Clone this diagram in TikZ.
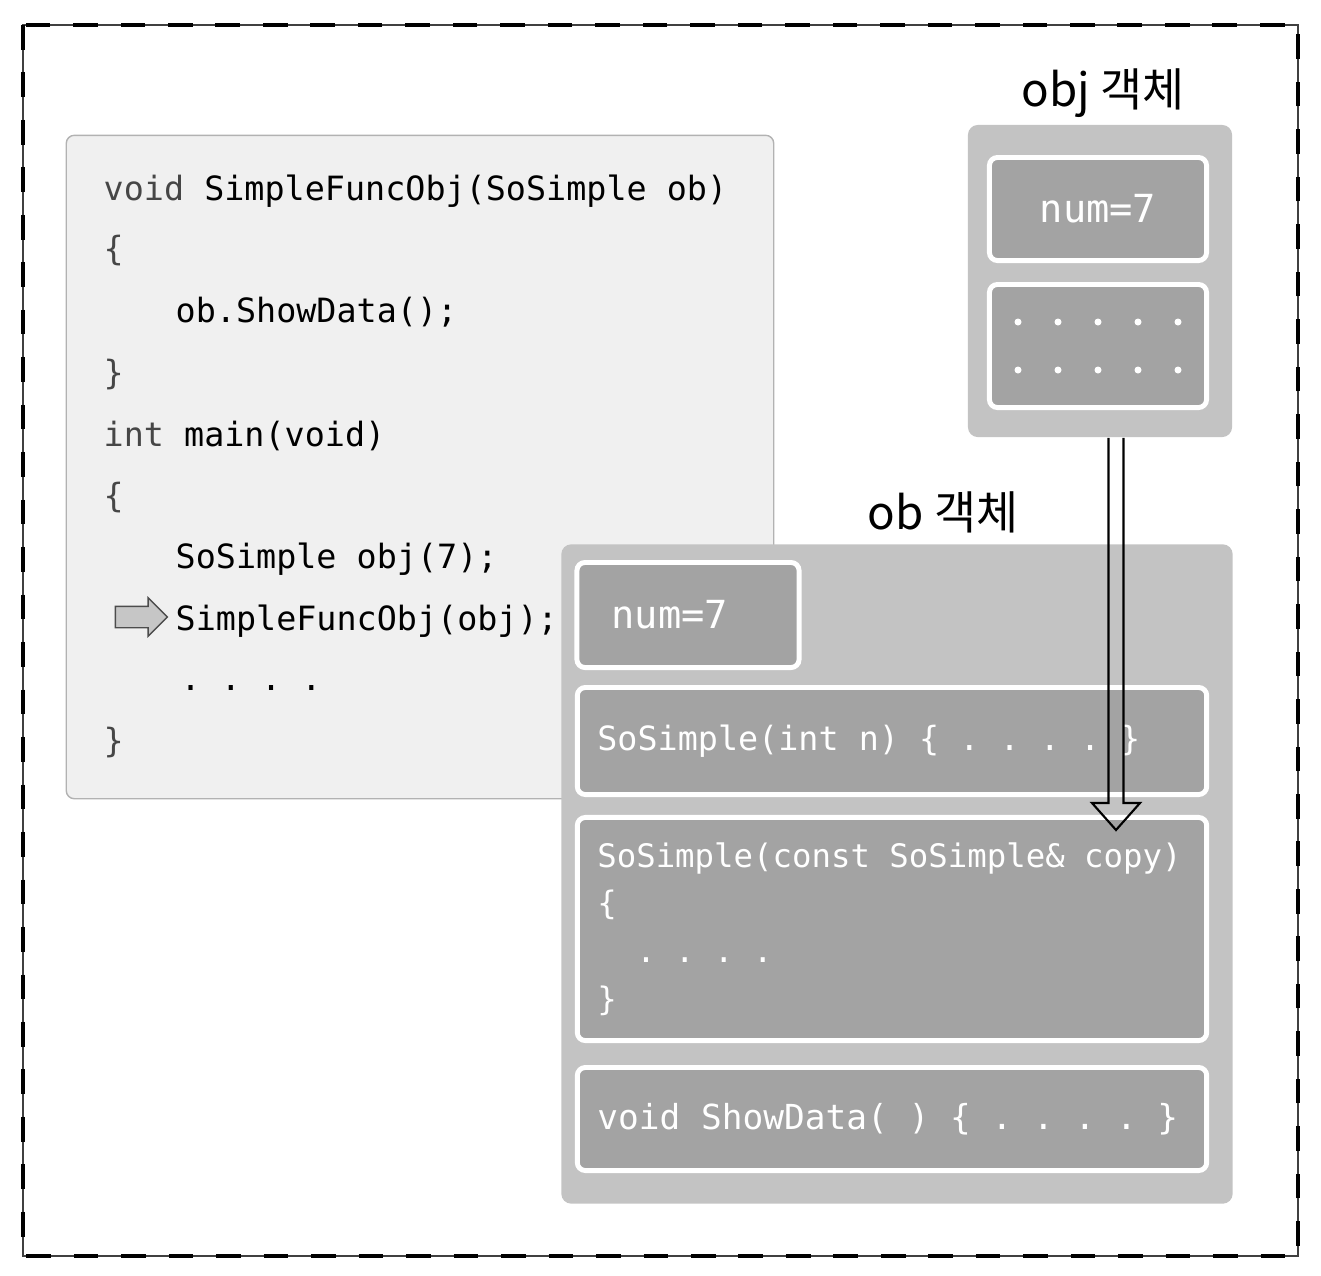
\documentclass[tikz,border=0pt]{standalone}
\usepackage{fontspec}
\newfontfamily\codefont[WordSpace={1,0,0}]{DejaVu Sans Mono}
\newfontfamily\krfont{Noto Sans CJK KR}
\usetikzlibrary{positioning,calc,shapes.arrows}
\frenchspacing
\newcommand\kw[1]{\textcolor{gray!55!black}{#1}}
\newcommand\memfont{\codefont\fontsize{9.2}{13.6}\selectfont}
\newcommand\valfont{\codefont\fontsize{11}{13}\selectfont}

\begin{document}
\begin{tikzpicture}[x=0.01cm,y=-0.01cm,
    panel/.style={fill=gray!47,rounded corners=0.1cm},
    membox/.style={fill=gray!72,draw=white,line width=1.4pt,rounded corners=0.08cm,
      text=white,font=\memfont,align=left,inner xsep=0.2cm,inner ysep=0pt,
      execute at begin node={\spaceskip=0pt\xspaceskip=0pt}},
    codeline/.style={anchor=base west,inner sep=0pt,font=\codefont\fontsize{9.5}{11}\selectfont},
    kolabel/.style={font=\krfont\fontsize{13}{15}\selectfont}]
    \useasboundingbox (0,0) rectangle (1321,1275);
    % frame
    \draw[gray!50!black,line width=0.3pt] (23,25) rectangle (1298,1256);
    \draw[line width=0.9pt,dash pattern=on 7pt off 6.5pt] (23,25) rectangle (1298,1256);

    % code
    \node[fill=gray!12,draw=gray!60,rounded corners=0.08cm,minimum width=7.07cm,minimum height=6.63cm] (code) at (420,467) {};
    \node[codeline] (l1) at (103,200) {\kw{void} SimpleFuncObj(SoSimple ob)};
    \node[codeline] (l2) at (103,260) {\kw{\{}};
    \node[codeline] (l3) at (175,322) {ob.ShowData();};
    \node[codeline] (l4) at (103,384) {\kw{\}}};
    \node[codeline] (l5) at (103,446) {\kw{int} main(void)};
    \node[codeline] (l6) at (103,507) {\kw{\{}};
    \node[codeline] (l7) at (175,568) {SoSimple obj(7);};
    \node[codeline] (l8) at (175,630) {SimpleFuncObj(obj);};
    \node[codeline] (l9) at (180,690) {. . . .};
    \node[codeline] (l10) at (103,752) {\kw{\}}};
    \node[single arrow,draw=gray!60!black,fill=gray!45,minimum height=0.52cm,
      inner xsep=0pt,inner ysep=0.1cm,single arrow head extend=0.085cm] (cur) at (136,617) {};

    % obj
    \node[kolabel] (objlabel) at (1103,93) {obj 객체};
    \node[panel,minimum width=2.64cm,minimum height=3.12cm] (objbox) at (1100,281) {};
    \node[membox,align=center,font=\valfont,text width=1.77cm,minimum height=1.03cm] (objnum) at (1098,209) {num=7};
    \node[membox,minimum width=2.17cm,minimum height=1.23cm] (objrest) at (1098,346) {};
    \foreach \i in {0,...,4}
      \foreach \r in {-24,24}
        \fill[white] ($(objrest.center)+(-80+40*\i,\r)$) circle[radius=0.035cm];

    % ob
    \node[panel,minimum width=6.71cm,minimum height=6.59cm] (obbox) at (897,874) {};
    \node[kolabel] (oblabel) at (943,512) {ob 객체};
    \node[membox,font=\valfont,inner xsep=0.345cm,text width=1.53cm,minimum height=1.05cm] (obnum) at (688,615) {num=7};
    \node[membox,font=\codefont\fontsize{9.5}{11}\selectfont,text width=5.89cm,minimum height=1.07cm] (ctor) at (892,741)
      {SoSimple(int n) \{ . . . . \}};
    \node[membox,text width=5.89cm,minimum height=2.23cm] (copyctor) at (892,929)
      {SoSimple(const SoSimple\& copy)\\\{\\\phantom{ab}. . . .\\\}};
    \node[membox,font=\codefont\fontsize{9.8}{11}\selectfont,text width=5.89cm,minimum height=1.03cm] (show) at (892,1119)
      {void ShowData( ) \{ . . . . \}};

    % copy arrow
    \coordinate (tail) at ($(objbox.south)+(16,0)$);
    \coordinate (tip) at ($(tail |- copyctor.north)+(0,15)$);
    \draw[line width=0.6pt] ($(tail)+(-7.5,0)$) -- ($(tip)+(-7.5,-27)$) -- ($(tip)+(-24,-27)$) -- (tip)
      -- ($(tip)+(24,-27)$) -- ($(tip)+(7.5,-27)$) -- ($(tail)+(7.5,0)$);
\end{tikzpicture}
\end{document}
